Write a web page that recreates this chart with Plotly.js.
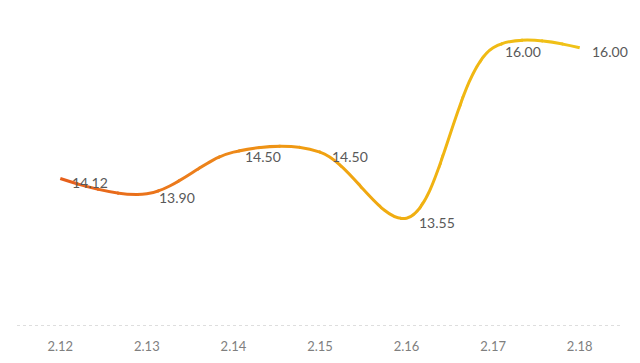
<!DOCTYPE html>
<html>
<head>
<meta charset="utf-8">
<script src="https://cdn.plot.ly/plotly-3.0.1.min.js"></script>
<style>
  html, body { margin: 0; padding: 0; background: #ffffff; }
  #chart { width: 640px; height: 363px; }
</style>
</head>
<body>
<div id="chart"></div>
<script>
// ---- data ----
const categories = ['2.12', '2.13', '2.14', '2.15', '2.16', '2.17', '2.18'];
const values = [14.12, 13.90, 14.50, 14.50, 13.55, 16.00, 16.00];
const valueLabels = ['14.12', '13.90', '14.50', '14.50', '13.55', '16.00', '16.00'];

// ---- gradient helper (left red-orange -> right yellow) ----
const stops = [
  [0.00, [228, 84, 26]],
  [0.30, [236, 128, 28]],
  [0.50, [240, 160, 16]],
  [0.70, [240, 180, 18]],
  [1.00, [240, 200, 26]]
];
function gradColor(t) {
  for (let k = 0; k < stops.length - 1; k++) {
    const a = stops[k], b = stops[k + 1];
    if (t <= b[0]) {
      const f = (t - a[0]) / (b[0] - a[0]);
      const c = a[1].map((v, j) => Math.round(v + (b[1][j] - v) * f));
      return 'rgb(' + c.join(',') + ')';
    }
  }
  const l = stops[stops.length - 1][1];
  return 'rgb(' + l.join(',') + ')';
}

const N = 30;                       // number of gradient slices
const span = categories.length;     // category span of the full axis
const eps = 0.0015;                 // small overlap between slices
const traces = [];
const layout = {
  width: 640, height: 363,
  margin: { l: 17, r: 17, t: 13, b: 37 },
  paper_bgcolor: '#ffffff',
  plot_bgcolor: 'rgba(0,0,0,0)',
  showlegend: false,
  font: { family: 'Lato, "Open Sans", sans-serif', color: '#595959' },
  xaxis: {
    type: 'category',
    categoryorder: 'array',
    categoryarray: categories,
    domain: [0, 1],
    range: [-0.5, span - 0.5],
    showgrid: false, zeroline: false, showline: false,
    ticks: '', ticklabelstandoff: 11,
    tickfont: { family: 'Lato, sans-serif', size: 13, color: '#7f7f7f' },
    fixedrange: true
  },
  yaxis: {
    range: [12, 16.5],
    showgrid: false, zeroline: false, showline: false,
    showticklabels: false, ticks: '',
    fixedrange: true
  },
  shapes: [{
    type: 'line', xref: 'paper', yref: 'y',
    x0: 0, x1: 1, y0: 12, y1: 12,
    line: { color: '#bdbdbd', width: 1, dash: 'dot' },
    layer: 'below'
  }],
  // data labels: category index positions on the category axis
  annotations: categories.map((c, k) => ({
    x: k, y: values[k], xref: 'x', yref: 'y',
    text: valueLabels[k],
    showarrow: false,
    xanchor: 'left', yanchor: 'middle',
    xshift: 10, yshift: -4,
    font: { family: 'Lato, sans-serif', size: 14, color: '#595959' }
  }))
};

for (let i = 0; i < N; i++) {
  const d0 = Math.max(0, i / N - eps), d1 = Math.min(1, (i + 1) / N + eps);
  const axName = 'xaxis' + (i + 2);
  layout[axName] = {
    type: 'category',
    categoryorder: 'array',
    categoryarray: categories,
    domain: [d0, d1],
    range: [-0.5 + span * d0, -0.5 + span * d1],
    anchor: 'y',
    visible: false,
    fixedrange: true
  };
  traces.push({
    type: 'scatter',
    mode: 'lines',
    x: categories,
    y: values,
    xaxis: 'x' + (i + 2),
    yaxis: 'y',
    line: { shape: 'spline', smoothing: 1, width: 3, color: gradColor((i + 0.5) / N), simplify: false },
    hoverinfo: 'skip'
  });
}

// invisible anchor trace on the main axes (keeps the main subplot populated)
traces.push({
  type: 'scatter',
  mode: 'markers',
  x: categories,
  y: values,
  xaxis: 'x', yaxis: 'y',
  marker: { size: 1, color: 'rgba(0,0,0,0)' },
  hoverinfo: 'skip'
});

Plotly.newPlot('chart', traces, layout, { displayModeBar: false, staticPlot: true });
</script>
</body>
</html>
